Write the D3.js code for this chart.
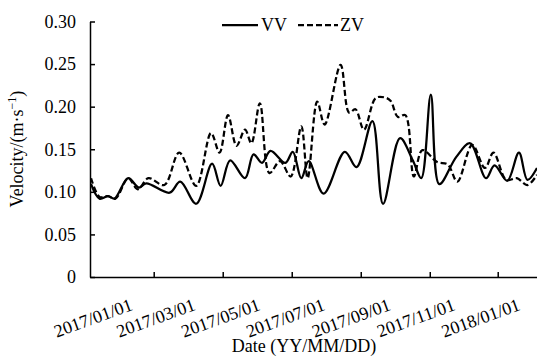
<!DOCTYPE html>
<html>
<head>
<meta charset="utf-8">
<script src="https://cdn.jsdelivr.net/npm/d3@7"></script>
<style>
  body { margin: 0; background: #fff; }
</style>
</head>
<body>
<svg id="chart" width="537" height="356" font-family="Liberation Serif, Times New Roman, DejaVu Serif, serif"></svg>
<script>
/* global d3 */
'use strict';

var FONT = 'Liberation Serif, Times New Roman, DejaVu Serif, serif';

// VV series (solid)
var vvDates = ['2016-12-30', '2017-01-07', '2017-01-15', '2017-01-21', '2017-02-03',
    '2017-02-13', '2017-02-20', '2017-03-14', '2017-03-24', '2017-04-08',
    '2017-04-23', '2017-05-01', '2017-05-10', '2017-05-24', '2017-06-01',
    '2017-06-09', '2017-06-17', '2017-07-01', '2017-07-08', '2017-07-16',
    '2017-07-23', '2017-08-06', '2017-08-26', '2017-09-06', '2017-09-21',
    '2017-10-01', '2017-10-17', '2017-10-29', '2017-11-06', '2017-11-15',
    '2017-11-23', '2017-12-09', '2017-12-22', '2018-01-06', '2018-01-14',
    '2018-01-26', '2018-02-06', '2018-02-14', '2018-02-23'];
var vvValues = [0.109, 0.092, 0.095, 0.092, 0.116,
    0.105, 0.110, 0.099, 0.112, 0.086,
    0.133, 0.107, 0.137, 0.116, 0.144,
    0.134, 0.148, 0.134, 0.147, 0.116,
    0.136, 0.098, 0.147, 0.129, 0.183,
    0.086, 0.163, 0.137, 0.116, 0.214,
    0.109, 0.141, 0.157, 0.116, 0.131,
    0.113, 0.146, 0.114, 0.128];

// ZV series (dashed)
var zvDates = ['2016-12-30', '2017-01-07', '2017-01-15', '2017-01-22', '2017-02-03',
    '2017-02-12', '2017-02-22', '2017-03-09', '2017-03-23', '2017-04-08',
    '2017-04-22', '2017-04-30', '2017-05-08', '2017-05-16', '2017-05-24',
    '2017-05-30', '2017-06-07', '2017-06-16', '2017-06-26', '2017-07-06',
    '2017-07-16', '2017-07-22', '2017-07-31', '2017-08-07', '2017-08-22',
    '2017-08-30', '2017-09-05', '2017-09-13', '2017-09-24', '2017-10-02',
    '2017-10-08', '2017-10-15', '2017-10-22', '2017-10-30', '2017-11-07',
    '2017-11-21', '2017-12-01', '2017-12-10', '2017-12-24', '2018-01-05',
    '2018-01-13', '2018-01-25', '2018-02-04', '2018-02-14', '2018-02-23'];
var zvValues = [0.116, 0.094, 0.095, 0.092, 0.116,
    0.103, 0.116, 0.108, 0.146, 0.107,
    0.169, 0.146, 0.190, 0.154, 0.173,
    0.157, 0.204, 0.122, 0.136, 0.118,
    0.177, 0.116, 0.206, 0.179, 0.249,
    0.193, 0.197, 0.173, 0.210, 0.211,
    0.207, 0.188, 0.190, 0.118, 0.149,
    0.135, 0.132, 0.112, 0.155, 0.128,
    0.146, 0.114, 0.116, 0.108, 0.120];

var xDomain = ['2016-12-29', '2018-02-23'];
var xTickDates = ['2017-02-27', '2017-05-03', '2017-07-07', '2017-09-10', '2017-11-14', '2018-01-17'];
var xLabelDates = ['2017-01-01', '2017-03-01', '2017-05-01', '2017-07-01', '2017-09-01', '2017-11-01', '2018-01-01'];
var yTicks = [0, 0.05, 0.10, 0.15, 0.20, 0.25, 0.30];

var parse = d3.timeParse('%Y-%m-%d');
var fmt = d3.timeFormat('%Y/%m/%d');

var svg = d3.select('#chart');

var x = d3.scaleTime()
    .domain(xDomain.map(parse))
    .range([90, 537]);

var y = d3.scaleLinear()
    .domain([0, 0.30])
    .range([277, 21.5]);

function series(dates, values) {
    return dates.map(function(d, i) {
        return { date: parse(d), value: values[i] };
    });
}

// y axis
var yAxis = d3.axisLeft(y)
    .tickValues(yTicks)
    .tickSizeInner(-5)
    .tickSizeOuter(0)
    .tickPadding(14)
    .tickFormat(function(d) { return d === 0 ? '0' : d3.format('.2f')(d); });

var gy = svg.append('g')
    .attr('transform', 'translate(90,0)')
    .call(yAxis)
    .attr('font-family', FONT)
    .attr('font-size', 18);
gy.selectAll('text').attr('fill', '#000');
gy.selectAll('line, path').attr('stroke', '#000').attr('stroke-width', 1.5);

// x axis (ticks only, labels drawn separately)
var xAxis = d3.axisBottom(x)
    .tickValues(xTickDates.map(parse))
    .tickSizeInner(-5)
    .tickSizeOuter(0)
    .tickFormat('');

var gx = svg.append('g')
    .attr('transform', 'translate(0,277)')
    .call(xAxis);
gx.selectAll('line, path').attr('stroke', '#000').attr('stroke-width', 1.5);

svg.append('g')
    .selectAll('text')
    .data(xLabelDates)
    .enter().append('text')
    .attr('transform', function(d) {
        return 'translate(' + x(parse(d)) + ',318) rotate(-20)';
    })
    .attr('text-anchor', 'middle')
    .attr('dominant-baseline', 'central')
    .attr('font-family', FONT)
    .attr('font-size', 18)
    .text(function(d) { return fmt(parse(d)); });

// axis titles
svg.append('text')
    .attr('x', 304)
    .attr('y', 352)
    .attr('text-anchor', 'middle')
    .attr('font-family', FONT)
    .attr('font-size', 18)
    .text('Date (YY/MM/DD)');

var yTitle = svg.append('text')
    .attr('transform', 'translate(23,149) rotate(-90)')
    .attr('text-anchor', 'middle')
    .attr('font-family', FONT)
    .attr('font-size', 18);
yTitle.append('tspan').text('Velocity/(m\u00b7s');
yTitle.append('tspan').attr('font-size', 12).attr('dy', -7).text('\u22121');
yTitle.append('tspan').attr('dy', 7).text(')');

// lines
var line = d3.line()
    .x(function(d) { return x(d.date); })
    .y(function(d) { return y(d.value); })
    .curve(d3.curveCatmullRom.alpha(0.5));

svg.append('path')
    .datum(series(vvDates, vvValues))
    .attr('fill', 'none')
    .attr('stroke', '#000')
    .attr('stroke-width', 2.25)
    .attr('d', line);

svg.append('path')
    .datum(series(zvDates, zvValues))
    .attr('fill', 'none')
    .attr('stroke', '#000')
    .attr('stroke-width', 2.25)
    .attr('stroke-dasharray', '6,3')
    .attr('d', line);

// legend
var legend = svg.append('g')
    .attr('font-family', FONT)
    .attr('font-size', 18);
legend.append('line')
    .attr('x1', 222).attr('x2', 258).attr('y1', 25).attr('y2', 25)
    .attr('stroke', '#000').attr('stroke-width', 2.25);
legend.append('text')
    .attr('x', 261).attr('y', 31).text('VV');
legend.append('line')
    .attr('x1', 298).attr('x2', 338).attr('y1', 25).attr('y2', 25)
    .attr('stroke', '#000').attr('stroke-width', 2.25)
    .attr('stroke-dasharray', '6,3');
legend.append('text')
    .attr('x', 340).attr('y', 31).text('ZV');
</script>
</body>
</html>
